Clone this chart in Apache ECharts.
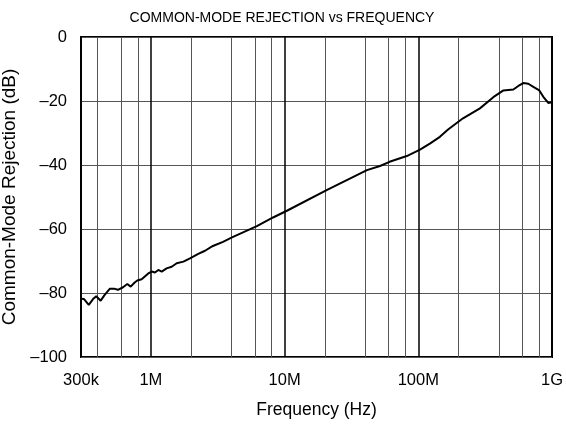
<!DOCTYPE html>
<html>
<head>
<meta charset="utf-8">
<script src="https://cdn.jsdelivr.net/npm/echarts@6/dist/echarts.min.js"></script>
<style>
html,body{margin:0;padding:0;background:#fff;}
#chart{width:566px;height:424px;}
</style>
</head>
<body>
<div id="chart"></div>
<script>
// Frequency (Hz) and common-mode rejection (dB)
var freqHz = [300e3, 316e3, 343e3, 369e3, 390e3, 421e3, 451e3, 492e3, 536e3, 567e3, 619e3, 666e3, 706e3, 756e3, 791e3,
  853e3, 956e3, 1.014e6, 1.073e6, 1.136e6, 1.204e6, 1.31e6, 1.43e6, 1.56e6, 1.75e6, 1.96e6, 2.26e6, 2.54e6, 2.91e6,
  3.46e6, 4.04e6, 6.2e6, 8.2e6, 10.4e6, 20.8e6, 41.3e6, 51.7e6, 61e6, 82e6, 103e6, 122e6, 145e6, 167e6, 216e6, 289e6,
  364e6, 433e6, 514e6, 560e6, 610e6, 665e6, 725e6, 804e6, 861e6, 938e6, 1e9];
var cmrDb = [-81.8, -81.9, -83.7, -81.9, -81.0, -82.4, -80.6, -78.7, -78.7, -79.0, -78.2, -77.2, -78.0, -76.7, -76.1,
  -75.7, -73.9, -73.3, -73.6, -72.8, -73.3, -72.3, -71.8, -70.7, -70.2, -69.2, -67.8, -66.8, -65.3,
  -64.0, -62.6, -59.1, -56.4, -54.3, -47.8, -41.6, -40.3, -39.0, -37.2, -35.2, -33.3, -31.2, -28.9, -25.4, -22.3,
  -18.8, -16.7, -16.4, -15.3, -14.4, -14.6, -15.6, -16.7, -18.7, -20.6, -20.4];

// Axis ticks / grid
var xTickValues = [3e5, 1e6, 1e7, 1e8, 1e9];
var xTickLabels = ['300k', '1M', '10M', '100M', '1G'];
var xMinorGrid = [4e5, 6e5, 8e5, 2e6, 4e6, 6e6, 8e6, 2e7, 4e7, 6e7, 8e7, 2e8, 4e8, 6e8, 8e8];
var yTicks = [-100, -80, -60, -40, -20, 0];

var FONT = 'Liberation Sans, Arial, sans-serif';

function xLabel(v) {
  var best = 0, bd = Infinity;
  for (var i = 0; i < xTickValues.length; i++) {
    var d = Math.abs(Math.log10(v) - Math.log10(xTickValues[i]));
    if (d < bd) { bd = d; best = i; }
  }
  return bd < 0.01 ? xTickLabels[best] : '';
}

var chart = echarts.init(document.getElementById('chart'), null, {renderer: 'canvas'});
var seriesData = freqHz.map(function (f, i) { return [f, cmrDb[i]]; });

chart.setOption({
  backgroundColor: '#ffffff',
  animation: false,
  title: {
    text: 'COMMON-MODE REJECTION vs FREQUENCY',
    left: 277, top: 6, textAlign: 'center',
    textStyle: {fontFamily: FONT, fontSize: 14, fontWeight: 'normal', color: '#000'}
  },
  grid: {left: 81, right: 14, top: 37, bottom: 67, outerBoundsMode: 'none', containLabel: false,
    show: true, borderColor: '#000', borderWidth: 2, backgroundColor: 'transparent'},
  xAxis: {
    type: 'log', logBase: 10, min: xTickValues[0], max: xTickValues[xTickValues.length - 1],
    name: 'Frequency (Hz)', nameLocation: 'middle', nameGap: 44,
    nameTextStyle: {fontFamily: FONT, fontSize: 17.5, color: '#000'},
    axisLine: {show: false},
    axisTick: {show: false},
    axisLabel: {fontFamily: FONT, fontSize: 16.5, color: '#000', margin: 15, formatter: xLabel, showMinLabel: true, showMaxLabel: true},
    splitLine: {show: true, lineStyle: {color: '#000', width: 1.5}},
    minorTick: {show: false},
    minorSplitLine: {show: false}
  },
  yAxis: {
    type: 'value', min: yTicks[0], max: yTicks[yTicks.length - 1], interval: 20,
    name: 'Common-Mode Rejection (dB)', nameLocation: 'middle', nameGap: 59,
    nameTextStyle: {fontFamily: FONT, fontSize: 19, color: '#000'},
    axisLine: {show: false},
    axisTick: {show: false},
    axisLabel: {fontFamily: FONT, fontSize: 16.5, color: '#000', margin: 14,
      formatter: function (v) { return v < 0 ? '\u2013' + Math.abs(v) : String(v); }},
    splitLine: {show: true, lineStyle: {color: '#555', width: 1}}
  },
  series: [
    {
      type: 'line',
      data: xMinorGrid.map(function (f) { return [f, null]; }),
      silent: true,
      symbol: 'none',
      lineStyle: {width: 0},
      markLine: {
        silent: true, symbol: 'none', label: {show: false},
        lineStyle: {color: '#555', width: 1, type: 'solid'},
        data: xMinorGrid.map(function (f) { return {xAxis: f}; })
      },
      z: 1
    },
    {
      type: 'line',
      data: seriesData,
      symbol: 'none',
      smooth: false,
      lineStyle: {color: '#000', width: 2},
      z: 5
    }
  ]
});
</script>
</body>
</html>
